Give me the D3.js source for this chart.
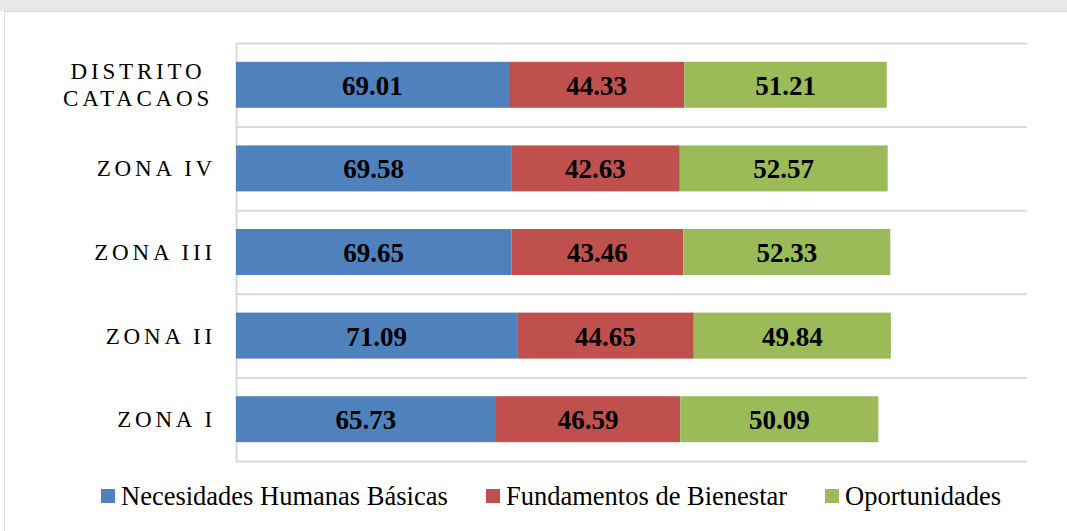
<!DOCTYPE html>
<html>
<head>
<meta charset="utf-8">
<script src="https://cdn.jsdelivr.net/npm/d3@7"></script>
<style>
  body { margin: 0; background: #fff; }
  svg { display: block; }
  svg text { font-family: "Liberation Serif", "Times New Roman", serif; }
</style>
</head>
<body>
<div id="chart"></div>
<script>
const categories = ["DISTRITO CATACAOS", "ZONA IV", "ZONA III", "ZONA II", "ZONA I"];
const seriesNames = ["Necesidades Humanas Básicas", "Fundamentos de Bienestar", "Oportunidades"];
const necesidades = [69.01, 69.58, 69.65, 71.09, 65.73];
const fundamentos = [44.33, 42.63, 43.46, 44.65, 46.59];
const oportunidades = [51.21, 52.57, 52.33, 49.84, 50.09];
const colors = ["#4f81bd", "#c0504d", "#9bbb59"];

const width = 1067, height = 531;
const margin = {top: 43, right: 40, bottom: 70, left: 236};
const serif = "'Liberation Serif', 'Times New Roman', serif";

const rows = categories.map((c, i) => ({
  cat: c,
  [seriesNames[0]]: necesidades[i],
  [seriesNames[1]]: fundamentos[i],
  [seriesNames[2]]: oportunidades[i]
}));
const stacked = d3.stack().keys(seriesNames)(rows);

const svg = d3.select("#chart").append("svg")
  .attr("width", width)
  .attr("height", height);

// faint strip above the chart frame
svg.append("rect")
  .attr("x", 0).attr("y", 0).attr("width", width).attr("height", 11)
  .attr("fill", "#e9e9e9");
svg.append("rect")
  .attr("x", 4.5).attr("y", 11.5).attr("width", width).attr("height", height)
  .attr("fill", "#fff").attr("stroke", "#d9d9d9");

const x = d3.scaleLinear().domain([0, 200]).range([margin.left, width - margin.right]);
const y = d3.scaleBand().domain(categories)
  .range([margin.top, height - margin.bottom])
  .paddingInner(0.45).paddingOuter(0.225);

// category separator lines
const step = y.step();
const seps = d3.range(categories.length + 1).map(i => margin.top + i * step);
svg.append("g")
  .selectAll("line")
  .data(seps)
  .join("line")
  .attr("x1", margin.left).attr("x2", width - margin.right)
  .attr("y1", d => d + 0.5).attr("y2", d => d + 0.5)
  .attr("stroke", "#d9d9d9").attr("stroke-width", 2);

svg.append("line")
  .attr("x1", margin.left + 0.5).attr("x2", margin.left + 0.5)
  .attr("y1", margin.top).attr("y2", height - margin.bottom)
  .attr("stroke", "#d9d9d9").attr("stroke-width", 2);

const layer = svg.append("g")
  .selectAll("g")
  .data(stacked)
  .join("g")
  .attr("fill", (d, i) => colors[i]);

layer.selectAll("rect")
  .data(d => d)
  .join("rect")
  .attr("x", d => x(d[0]))
  .attr("y", d => y(d.data.cat))
  .attr("width", d => x(d[1]) - x(d[0]))
  .attr("height", y.bandwidth());

layer.selectAll("text")
  .data(d => d)
  .join("text")
  .attr("x", d => (x(d[0]) + x(d[1])) / 2)
  .attr("y", d => y(d.data.cat) + y.bandwidth() / 2 + 10)
  .attr("text-anchor", "middle")
  .attr("fill", "#000")
  .attr("font-family", serif)
  .attr("font-weight", "bold")
  .attr("font-size", 27)
  .text(d => (d[1] - d[0]).toFixed(2));

// category labels
const labels = svg.append("g")
  .selectAll("text")
  .data(categories)
  .join("text")
  .attr("font-family", serif)
  .attr("font-size", 23)
  .attr("letter-spacing", 3.8)
  .attr("fill", "#000");

labels.each(function(c) {
  const words = c === "DISTRITO CATACAOS" ? ["DISTRITO", "CATACAOS"] : [c];
  const cy = y(c) + y.bandwidth() / 2;
  const t = d3.select(this);
  words.forEach((w, i) => {
    t.append("tspan")
      .attr("x", words.length > 1 ? 138 : 216)
      .attr("text-anchor", words.length > 1 ? "middle" : "end")
      .attr("y", cy + (i - (words.length - 1) / 2) * 27 + 8)
      .text(w);
  });
});

// legend
const legendX = [101, 486, 825];
const legend = svg.append("g")
  .selectAll("g")
  .data(seriesNames)
  .join("g")
  .attr("transform", (d, i) => `translate(${legendX[i]}, 489)`);
legend.append("rect")
  .attr("width", 14).attr("height", 14)
  .attr("fill", (d, i) => colors[i]);
legend.append("text")
  .attr("x", 20).attr("y", 16)
  .attr("font-family", serif)
  .attr("font-size", 26.5)
  .attr("fill", "#000")
  .text(d => d);
</script>
</body>
</html>
